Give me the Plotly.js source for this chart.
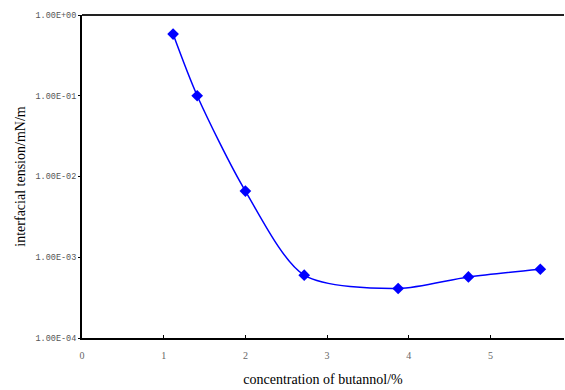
<!DOCTYPE html>
<html><head><meta charset="utf-8">
<script src="https://cdn.plot.ly/plotly-3.0.1.min.js"></script>
<style>html,body{margin:0;padding:0;background:#fff}#c{width:565px;height:390px}</style>
</head><body><div id="c"></div>
<script>
const concentration = [1.115, 1.41, 2.0, 2.72, 3.87, 4.73, 5.61];
const tension = [0.58, 0.1, 0.0066, 0.0006, 0.00041, 0.00057, 0.00071];
const yTickVals = [1e-4, 1e-3, 1e-2, 1e-1, 1];
const yTickText = ['1.00E-04', '1.00E-03', '1.00E-02', '1.00E-01', '1.00E+00'];
const xTickVals = [0, 1, 2, 3, 4, 5];

const trace = {
  x: concentration, y: tension, type: 'scatter', mode: 'lines+markers',
  line: {color: '#0000FF', width: 1.5, shape: 'spline', smoothing: 0.8},
  marker: {symbol: 'diamond', size: 9, color: '#0000FF'},
  hoverinfo: 'none'
};
const layout = {
  width: 565, height: 390,
  margin: {l: 82, r: 1, t: 15, b: 52},
  paper_bgcolor: '#fff', plot_bgcolor: '#fff',
  showlegend: false,
  xaxis: {
    range: [0, 5.9], tickvals: xTickVals, ticktext: xTickVals.map(String),
    showgrid: false, zeroline: false, showline: true, linecolor: '#000', linewidth: 2,
    ticks: 'inside', ticklen: 3, tickcolor: '#000',
    tickfont: {family: 'Liberation Serif', size: 10, color: '#666'},
    ticklabelstandoff: 7,
    title: {text: 'concentration of butannol/%', font: {family: 'Liberation Serif', size: 14, color: '#000'}, standoff: 14}
  },
  yaxis: {
    type: 'log', range: [-4, 0], tickvals: yTickVals, ticktext: yTickText,
    showgrid: false, zeroline: false, showline: true, linecolor: '#000', linewidth: 2,
    ticks: 'outside', ticklen: 2, tickcolor: '#000',
    tickfont: {family: 'Liberation Mono', size: 8.5, color: '#555'},
    title: {text: 'interfacial tension/mN/m', font: {family: 'Liberation Serif', size: 14, color: '#000'}, standoff: 7}
  },
  shapes: [{type: 'line', xref: 'paper', yref: 'paper', x0: 0, x1: 1, y0: 1, y1: 1, line: {color: '#222', width: 2}}]
};
Plotly.newPlot('c', [trace], layout, {displayModeBar: false, staticPlot: true});
</script>
</body></html>
